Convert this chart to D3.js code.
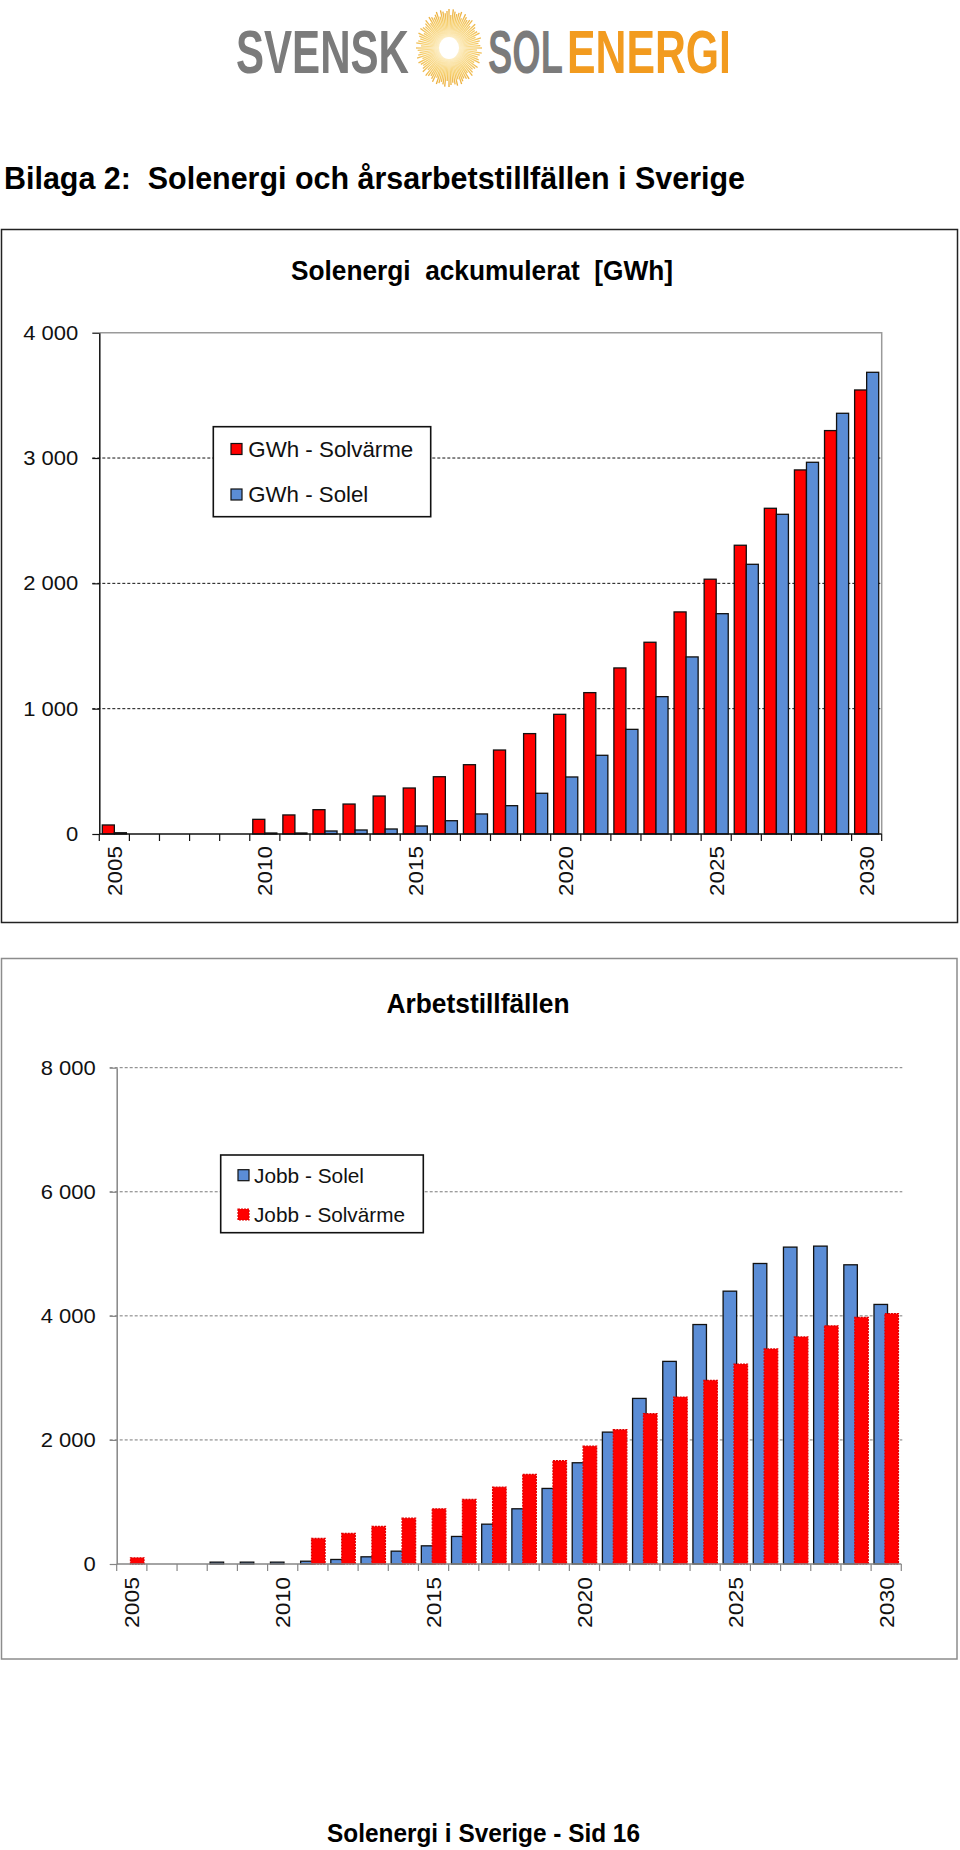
<!DOCTYPE html>
<html>
<head>
<meta charset="utf-8">
<script src="https://cdn.jsdelivr.net/npm/d3@7"></script>
<style>
  body { margin: 0; background: #fff; }
  svg { display: block; }
</style>
</head>
<body>
<svg id="page" width="960" height="1850"></svg>
<script>
// ---------------- DATA ----------------
const categories = ["2005","2006","2007","2008","2009","2010","2011","2012","2013","2014","2015","2016","2017",
                    "2018","2019","2020","2021","2022","2023","2024","2025","2026","2027","2028","2029","2030"];
const xTickLabels = ["2005","2010","2015","2020","2025","2030"];

// Chart 1: Solenergi ackumulerat [GWh]
const gwhSolvarme = [72,0,0,0,0,117,152,194,239,303,367,457,553,670,801,955,1128,1325,1530,1772,2033,2304,2599,2905,3219,3543];
const gwhSolel    = [10,0,0,0,0,8,8,24,32,40,64,106,160,226,325,455,628,835,1096,1413,1758,2152,2551,2966,3357,3684];
const gwhTicks    = [0,1000,2000,3000,4000];

// Chart 2: Arbetstillfällen
const jobbSolel    = [0,0,0,30,30,30,45,73,116,207,293,444,642,890,1218,1632,2126,2669,3266,3860,4398,4844,5108,5124,4823,4184];
const jobbSolvarme = [100,0,0,0,0,0,411,492,605,739,890,1040,1239,1444,1664,1900,2164,2422,2691,2960,3223,3466,3660,3840,3975,4036];
const jobbTicks    = [0,2000,4000,6000,8000];

// ---------------- STYLE ----------------
const FONT = "'Liberation Sans', Arial, Helvetica, sans-serif";
const RED = "#ff0000";
const BLUE = "#5b8dd6";
const svg = d3.select("#page");
const fmt = d3.formatLocale({decimal: ",", thousands: " ", grouping: [3], currency: ["", ""]}).format(",d");

// ---------------- LOGO ----------------
(function drawLogo() {
  const g = svg.append("g");
  const defs = svg.append("defs");
  const grad = defs.append("radialGradient").attr("id", "sunGrad")
    .attr("gradientUnits", "userSpaceOnUse").attr("cx", 449).attr("cy", 48).attr("r", 40);
  grad.append("stop").attr("offset", "0%").attr("stop-color", "#ffffff");
  grad.append("stop").attr("offset", "30%").attr("stop-color", "#fcebbd");
  grad.append("stop").attr("offset", "65%").attr("stop-color", "#f6cf6e");
  grad.append("stop").attr("offset", "100%").attr("stop-color", "#e9a62e");
  const rays = d3.range(96);
  const a = i => i * 2 * Math.PI / 96;
  const k = i => 1 - 0.1 * (i % 3 === 1) - 0.05 * (i % 2);
  g.append("g").selectAll("line").data(rays).join("line")
    .attr("x1", i => 449 + 8 * Math.cos(a(i)))
    .attr("y1", i => 48 + 8 * Math.sin(a(i)))
    .attr("x2", i => 449 + 33 * k(i) * Math.cos(a(i)))
    .attr("y2", i => 48 + 39 * k(i) * Math.sin(a(i)))
    .attr("stroke", "url(#sunGrad)").attr("stroke-width", 1.3);
  g.append("ellipse").attr("cx", 449).attr("cy", 48).attr("rx", 10).attr("ry", 11).attr("fill", "#ffffff");

  const word = (x, len, txt, col) => {
    const t = g.append("text")
      .attr("font-family", FONT).attr("font-weight", "bold").attr("font-size", 44)
      .attr("fill", col).text(txt);
    const w = t.node().getComputedTextLength();
    t.attr("transform", `translate(${x},73) scale(${len / w},1.39)`);
  };
  word(236, 173, "SVENSK", "#7b7b7b");
  word(488, 75, "SOL", "#7b7b7b");
  word(567, 164, "ENERGI", "#f29b1f");
})();

// ---------------- PAGE TEXT ----------------
svg.append("text").attr("x", 4).attr("y", 189)
  .attr("font-family", FONT).attr("font-weight", "bold").attr("font-size", 31)
  .style("white-space", "pre")
  .attr("textLength", 741).attr("lengthAdjust", "spacingAndGlyphs")
  .text("Bilaga 2:  Solenergi och årsarbetstillfällen i Sverige");

svg.append("text").attr("x", 327).attr("y", 1842)
  .attr("font-family", FONT).attr("font-weight", "bold").attr("font-size", 26)
  .attr("textLength", 313).attr("lengthAdjust", "spacingAndGlyphs")
  .text("Solenergi i Sverige - Sid 16");

// ---------------- CHART FUNCTION ----------------
function drawChart(c) {
  const g = svg.append("g");
  g.append("rect").attr("x", c.frame.x).attr("y", c.frame.y).attr("width", c.frame.w).attr("height", c.frame.h)
    .attr("fill", "#fff").attr("stroke", c.frame.color).attr("stroke-width", c.frame.sw);

  g.append("text").attr("x", c.titlePos.x).attr("y", c.titlePos.y).attr("text-anchor", "middle")
    .attr("font-family", FONT).attr("font-weight", "bold").attr("font-size", c.titlePos.size)
    .attr("textLength", c.titlePos.len).attr("lengthAdjust", "spacingAndGlyphs")
    .style("white-space", "pre").text(c.title);

  const x0 = d3.scaleBand().domain(categories).range([c.left, c.right])
    .paddingInner(c.pad).paddingOuter(c.pad / 2);
  const x1 = d3.scaleBand().domain(c.series.map(s => s.key)).range([0, x0.bandwidth()]);
  const y = d3.scaleLinear().domain([0, d3.max(c.yTicks)]).range([c.bottom, c.top]);

  if (c.plotBorder) {
    g.append("path").attr("d", `M${c.left},${c.top}H${c.right}V${c.bottom}`)
      .attr("fill", "none").attr("stroke", c.plotBorder).attr("stroke-width", 1.5);
  }

  // gridlines
  g.append("g").selectAll("line").data(c.gridTicks).join("line")
    .attr("x1", c.left - 7).attr("x2", c.gridRight)
    .attr("y1", d => y(d)).attr("y2", d => y(d))
    .attr("stroke", c.gridColor).attr("stroke-width", 1).attr("stroke-dasharray", "3,2");

  // bars
  c.series.forEach((s, si) => {
    const rows = categories.map((cat, i) => ({cat, v: s.values[i]})).filter(d => d.v > 0);
    g.append("g").selectAll("rect").data(rows).join("rect")
      .attr("x", d => x0(d.cat) + x1(s.key) - (si > 0 ? c.overlap : 0))
      .attr("width", x1.bandwidth() + c.overlap)
      .attr("y", d => y(d.v))
      .attr("height", d => c.bottom - y(d.v))
      .attr("fill", s.fill).attr("stroke", s.stroke).attr("stroke-width", 1.3)
      .attr("stroke-dasharray", s.dash || null);
  });

  // y axis
  const yAxis = d3.axisLeft(y).tickValues(c.yTicks).tickFormat(fmt)
    .tickSize(7).tickSizeOuter(0).tickPadding(14);
  const ya = g.append("g").attr("transform", `translate(${c.left},0)`).call(yAxis);
  ya.select(".domain").attr("stroke", c.axisColor).attr("stroke-width", 1.5);
  ya.selectAll(".tick line").attr("stroke", c.axisColor).attr("stroke-width", 1.2);
  ya.selectAll("text").attr("font-family", FONT).attr("font-size", 20).attr("fill", "#111")
    .each(function () {
      const w = this.getComputedTextLength();
      d3.select(this).attr("textLength", w * 1.1).attr("lengthAdjust", "spacingAndGlyphs");
    });

  // x axis
  const xa = g.append("g");
  const bounds = d3.range(categories.length + 1).map(i => x0.range()[0] + i * x0.step());
  xa.selectAll("line.tk").data(bounds).join("line").attr("class", "tk")
    .attr("x1", d => d).attr("x2", d => d).attr("y1", c.bottom).attr("y2", c.bottom + 7)
    .attr("stroke", c.axisColor).attr("stroke-width", 1.2);
  xa.append("line").attr("x1", c.left).attr("x2", c.right).attr("y1", c.bottom).attr("y2", c.bottom)
    .attr("stroke", c.axisColor).attr("stroke-width", 1.5);
  xa.selectAll("text").data(xTickLabels).join("text")
    .attr("transform", d => `translate(${x0(d) + x0.bandwidth() / 2},${c.bottom + c.xLabelOffset}) rotate(-90)`)
    .attr("text-anchor", "end").attr("dy", "0.36em")
    .attr("font-family", FONT).attr("font-size", 21).attr("fill", "#111")
    .attr("textLength", c.xLabelLen).attr("lengthAdjust", "spacingAndGlyphs")
    .text(d => d);

  // legend
  const L = c.legend;
  const lg = g.append("g");
  lg.append("rect").attr("x", L.x).attr("y", L.y).attr("width", L.w).attr("height", L.h)
    .attr("fill", "#fff").attr("stroke", "#111").attr("stroke-width", 1.6);
  L.items.forEach(it => {
    const s = c.series.find(d => d.key === it.key);
    lg.append("rect").attr("x", L.sx).attr("y", it.cy - 5.5).attr("width", 11).attr("height", 11)
      .attr("fill", s.fill).attr("stroke", s.legendStroke).attr("stroke-width", 1.2)
      .attr("stroke-dasharray", s.dash || null);
    lg.append("text").attr("x", L.tx).attr("y", it.cy).attr("dy", "0.36em")
      .attr("font-family", FONT).attr("font-size", L.size).attr("fill", "#111")
      .attr("textLength", it.len).attr("lengthAdjust", "spacingAndGlyphs")
      .text(it.key);
  });
}

// ---------------- CHART 1 ----------------
drawChart({
  frame: {x: 1.5, y: 229.5, w: 956, h: 693, color: "#222", sw: 1.5},
  title: "Solenergi  ackumulerat  [GWh]",
  titlePos: {x: 482, y: 280, size: 28, len: 382},
  left: 99.3, right: 881.7, top: 332.7, bottom: 834,
  pad: 0.2, overlap: 0,
  yTicks: gwhTicks, gridTicks: [1000, 2000, 3000], gridRight: 881.7,
  gridColor: "#111", axisColor: "#111", plotBorder: "#9a9a9a",
  xLabelOffset: 12, xLabelLen: 50,
  series: [
    {key: "GWh - Solvärme", values: gwhSolvarme, fill: RED, stroke: "#111", legendStroke: "#111"},
    {key: "GWh - Solel", values: gwhSolel, fill: BLUE, stroke: "#111", legendStroke: "#111"}
  ],
  legend: {x: 213.3, y: 426.7, w: 217.4, h: 90, sx: 231, tx: 248.3, size: 22,
    items: [{key: "GWh - Solvärme", cy: 449, len: 165}, {key: "GWh - Solel", cy: 494.5, len: 120}]}
});

// ---------------- CHART 2 ----------------
drawChart({
  frame: {x: 1.5, y: 958.5, w: 955.5, h: 700.5, color: "#8c8c8c", sw: 1.5},
  title: "Arbetstillfällen",
  titlePos: {x: 478, y: 1012.7, size: 28, len: 183},
  left: 116.7, right: 901.3, top: 1067.7, bottom: 1564,
  pad: 0.19, overlap: 1.3,
  yTicks: jobbTicks, gridTicks: [2000, 4000, 6000, 8000], gridRight: 902.3,
  gridColor: "#7a7a7a", axisColor: "#868686", plotBorder: null,
  xLabelOffset: 13, xLabelLen: 51,
  series: [
    {key: "Jobb - Solel", values: jobbSolel, fill: BLUE, stroke: "#111", legendStroke: "#111"},
    {key: "Jobb - Solvärme", values: jobbSolvarme, fill: RED, stroke: "#e00000", dash: "2,1", legendStroke: "#e00000"}
  ],
  legend: {x: 220.7, y: 1155, w: 202.6, h: 77.7, sx: 238, tx: 254, size: 21,
    items: [{key: "Jobb - Solel", cy: 1175.2, len: 110}, {key: "Jobb - Solvärme", cy: 1214.5, len: 151}]}
});
</script>
</body>
</html>
